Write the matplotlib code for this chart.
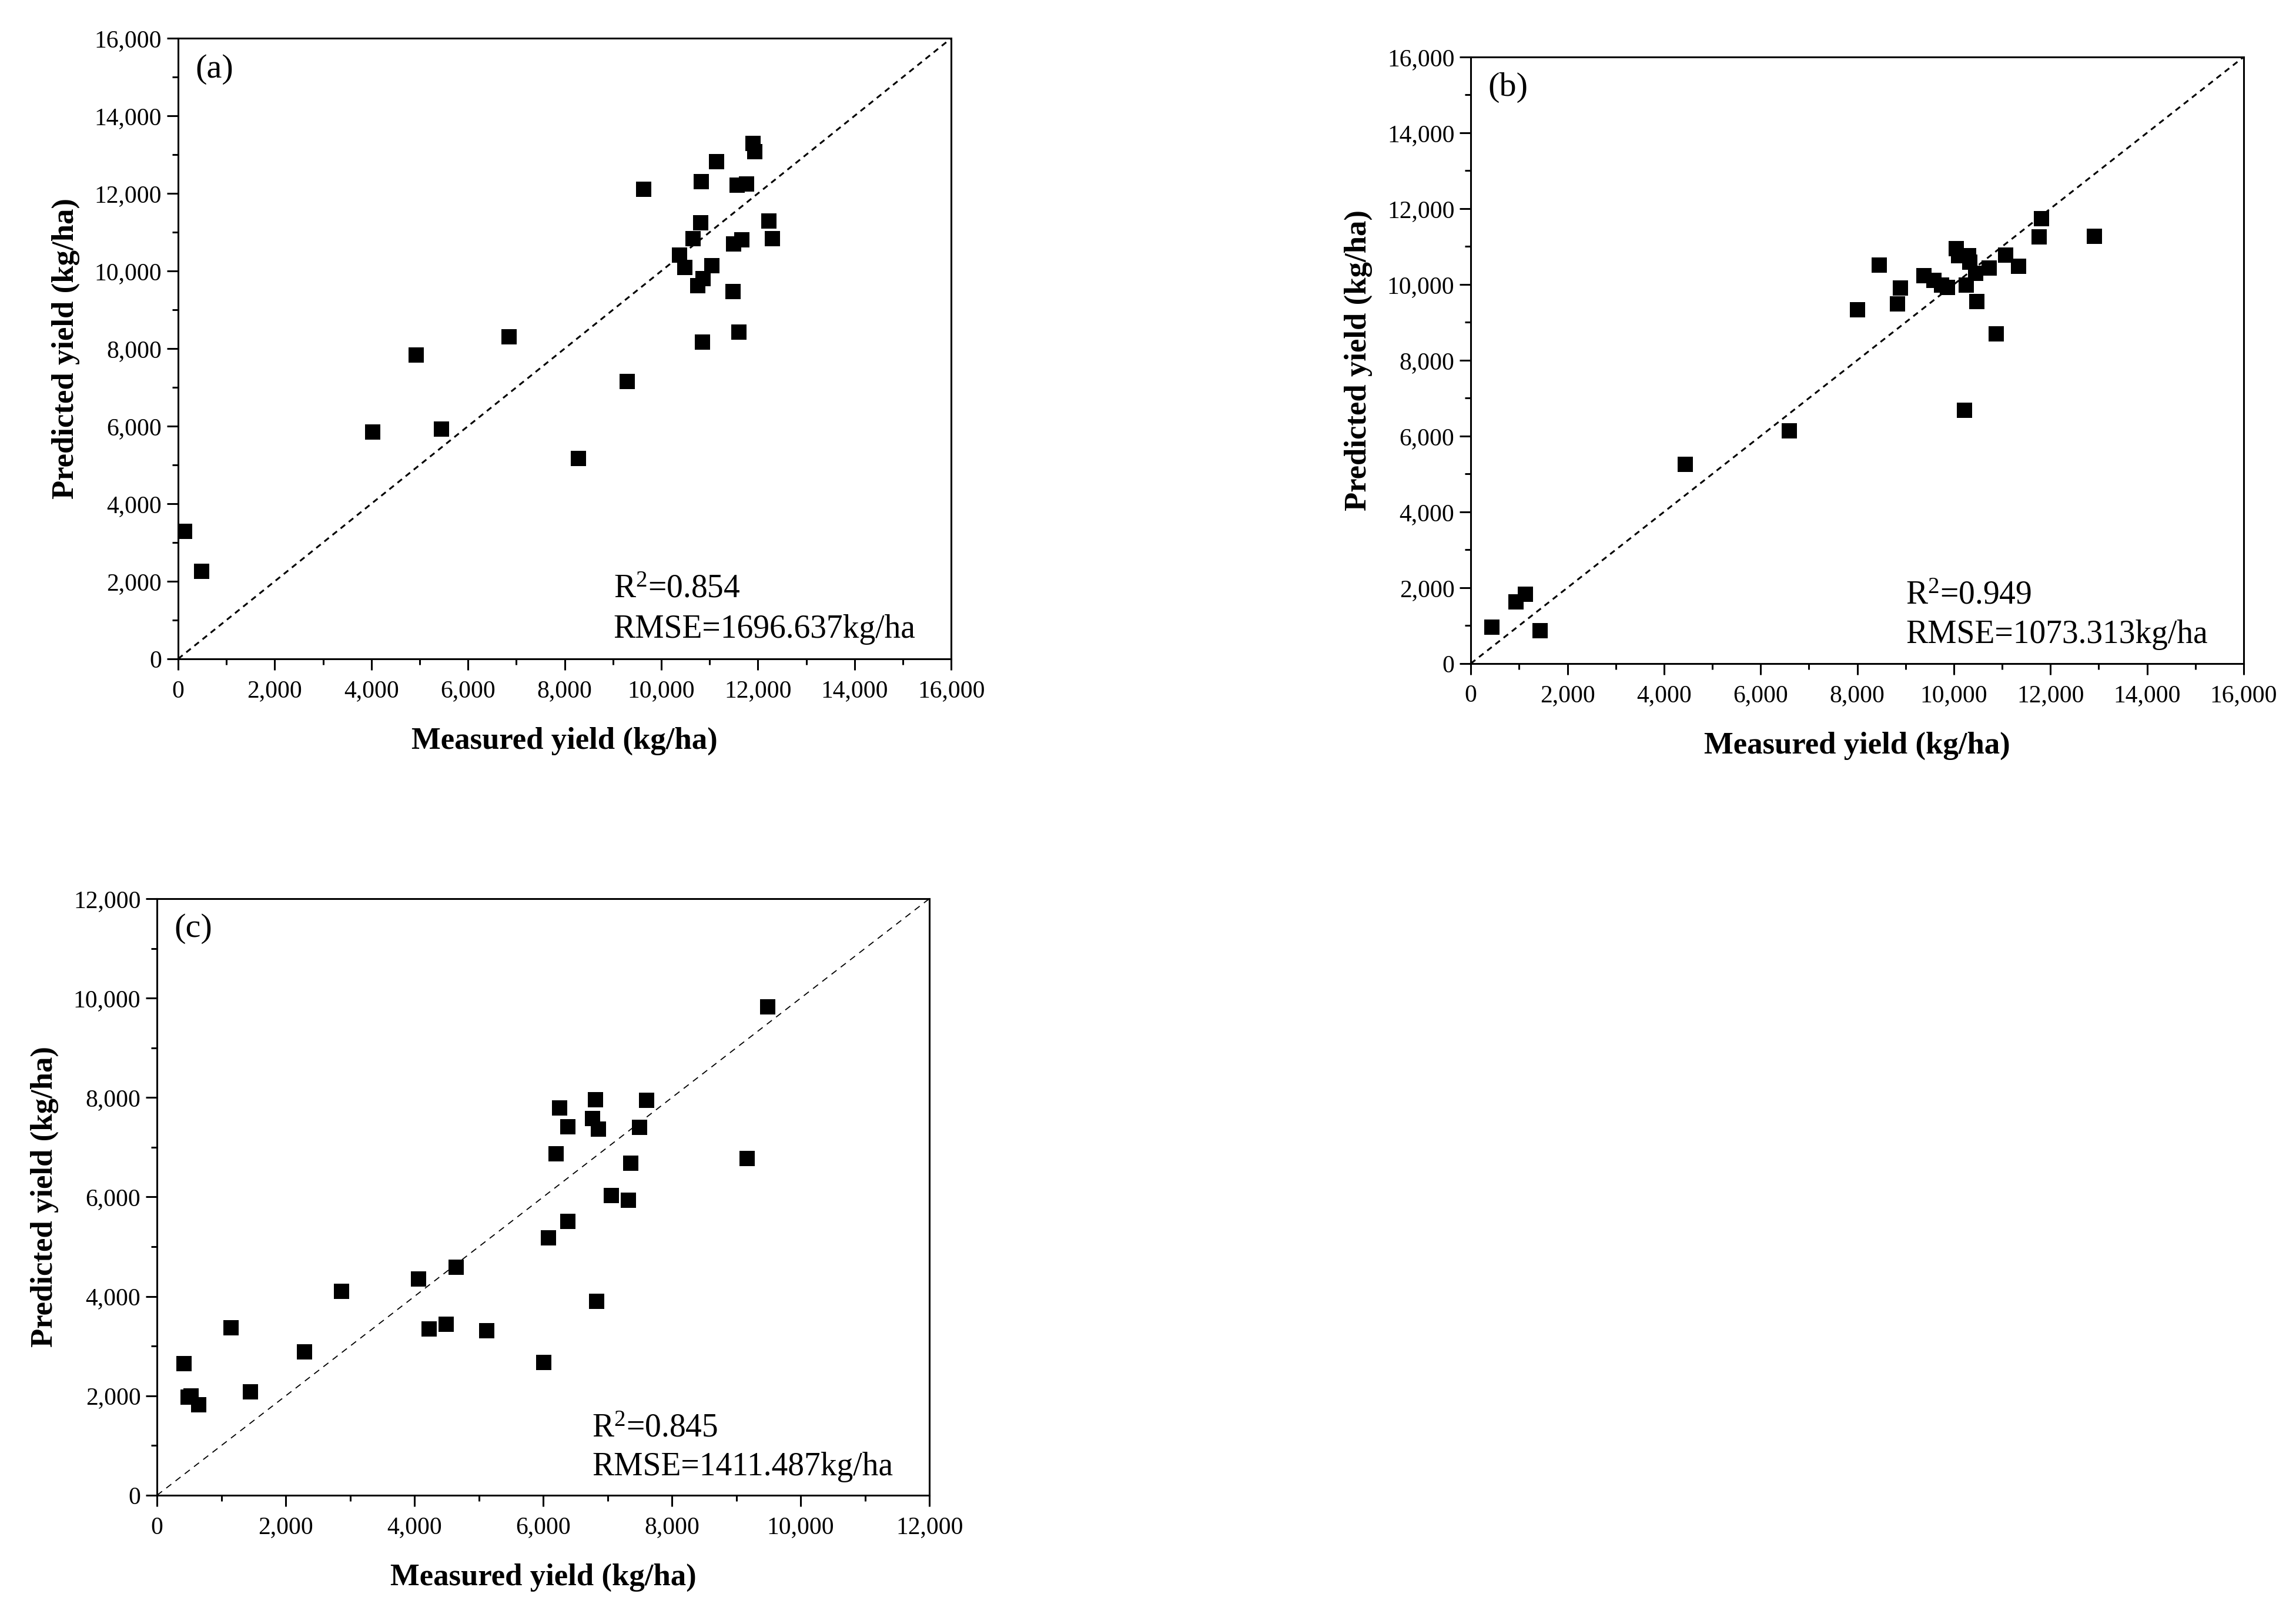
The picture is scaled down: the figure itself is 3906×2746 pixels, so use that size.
import matplotlib
matplotlib.use("Agg")
import matplotlib.pyplot as plt
from matplotlib.ticker import MultipleLocator, FuncFormatter

plt.rcParams['font.family'] = ['Liberation Serif', 'DejaVu Serif']
plt.rcParams['mathtext.fontset'] = 'custom'
plt.rcParams['mathtext.rm'] = 'Liberation Serif'
plt.rcParams['mathtext.it'] = 'Liberation Serif:italic'
plt.rcParams['mathtext.bf'] = 'Liberation Serif:bold'

# Panel (a)
a_measured = [130, 480, 4020, 4920, 5450, 6850, 8280, 9290, 9640, 10380, 10490, 10660,
              10750, 10860, 10820, 10830, 10850, 11040, 11140, 11480, 11490, 11610,
              11570, 11760, 11670, 11900, 11930, 12220, 12300]
a_predicted = [3290, 2250, 5850, 7840, 5920, 8310, 5160, 7150, 12100, 10410, 10090, 10840,
               9620, 9810, 11240, 12310, 8160, 10130, 12820, 9470, 10700, 8430,
               12220, 12250, 10800, 13290, 13070, 11290, 10840]

# Panel (b)
b_measured = [440, 940, 1130, 1430, 4440, 6590, 8000, 8460, 8830, 8890, 9380, 9590, 9740,
              9870, 10050, 10100, 10300, 10330, 10260, 10450, 10480, 10220, 10730, 10880,
              11070, 11340, 11760, 11810, 12910]
b_predicted = [960, 1630, 1820, 870, 5250, 6140, 9330, 10510, 9490, 9910, 10230, 10100, 9990,
               9920, 10940, 10760, 10760, 10590, 9990, 10300, 9550, 6680, 10440, 8690,
               10780, 10480, 11260, 11730, 11270]

# Panel (c)
c_measured = [420, 480, 530, 650, 1150, 1450, 2290, 2870, 4060, 4230, 4490, 4650, 5120,
              6010, 6080, 6200, 6250, 6380, 6380, 6770, 6810, 6860, 6830, 7060, 7320,
              7360, 7500, 7610, 9170, 9490]
c_predicted = [2650, 1970, 2000, 1820, 3370, 2080, 2880, 4100, 4350, 3340, 3440, 4590, 3310,
               2670, 5180, 6870, 7790, 7410, 5510, 7580, 7960, 7370, 3900, 6030, 5930,
               6680, 7400, 7950, 6770, 9830]

panels = [
    dict(label='(a)', x=a_measured, y=a_predicted, lim=16000, r2='0.854', rmse='1696.637',
         rect=[0.0776, 0.5918, 0.3367, 0.3845], dash_lw=2.2, dash=(0, (3.2, 2.6))),
    dict(label='(b)', x=b_measured, y=b_predicted, lim=16000, r2='0.949', rmse='1073.313',
         rect=[0.6406, 0.5889, 0.3366, 0.3758], dash_lw=2.2, dash=(0, (3.2, 2.6))),
    dict(label='(c)', x=c_measured, y=c_predicted, lim=12000, r2='0.845', rmse='1411.487',
         rect=[0.0684, 0.0736, 0.3364, 0.3696], dash_lw=1.3, dash=(0, (6, 5))),
]

fig = plt.figure(figsize=(39.06, 27.46), dpi=100)
fmt = FuncFormatter(lambda v, p: f"{int(round(v)):,}")

for p in panels:
    ax = fig.add_axes(p['rect'])
    lim = p['lim']
    ax.plot([0, lim], [0, lim], linestyle=p['dash'], color='black', lw=p['dash_lw'], zorder=1)
    ax.scatter(p['x'], p['y'], marker='s', s=360, color='black', linewidths=0, zorder=3)
    ax.set_xlim(0, lim)
    ax.set_ylim(0, lim)
    ax.xaxis.set_major_locator(MultipleLocator(2000))
    ax.yaxis.set_major_locator(MultipleLocator(2000))
    ax.xaxis.set_minor_locator(MultipleLocator(1000))
    ax.yaxis.set_minor_locator(MultipleLocator(1000))
    ax.xaxis.set_major_formatter(fmt)
    ax.yaxis.set_major_formatter(fmt)
    ax.tick_params(which='both', direction='out', top=False, right=False, width=2.2)
    ax.tick_params(axis='x', which='major', length=14, labelsize=30, pad=12)
    ax.tick_params(axis='y', which='major', length=14, labelsize=30, pad=6)
    ax.tick_params(which='minor', length=7)
    for s in ax.spines.values():
        s.set_linewidth(2.2)
    ax.set_xlabel('Measured yield (kg/ha)', fontsize=38, fontweight='bold', labelpad=30)
    ax.set_ylabel('Predicted yield (kg/ha)', fontsize=38, fontweight='bold', labelpad=18)
    ax.text(0.022, 0.95, p['label'], transform=ax.transAxes, fontsize=42,
            ha='left', va='center')
    ax.text(0.563, 0.112, r'R$^{2}$=' + p['r2'], transform=ax.transAxes, fontsize=40,
            ha='left', va='center')
    ax.text(0.563, 0.047, 'RMSE=' + p['rmse'] + 'kg/ha', transform=ax.transAxes, fontsize=40,
            ha='left', va='center')

fig.savefig('out.png', dpi=100)
